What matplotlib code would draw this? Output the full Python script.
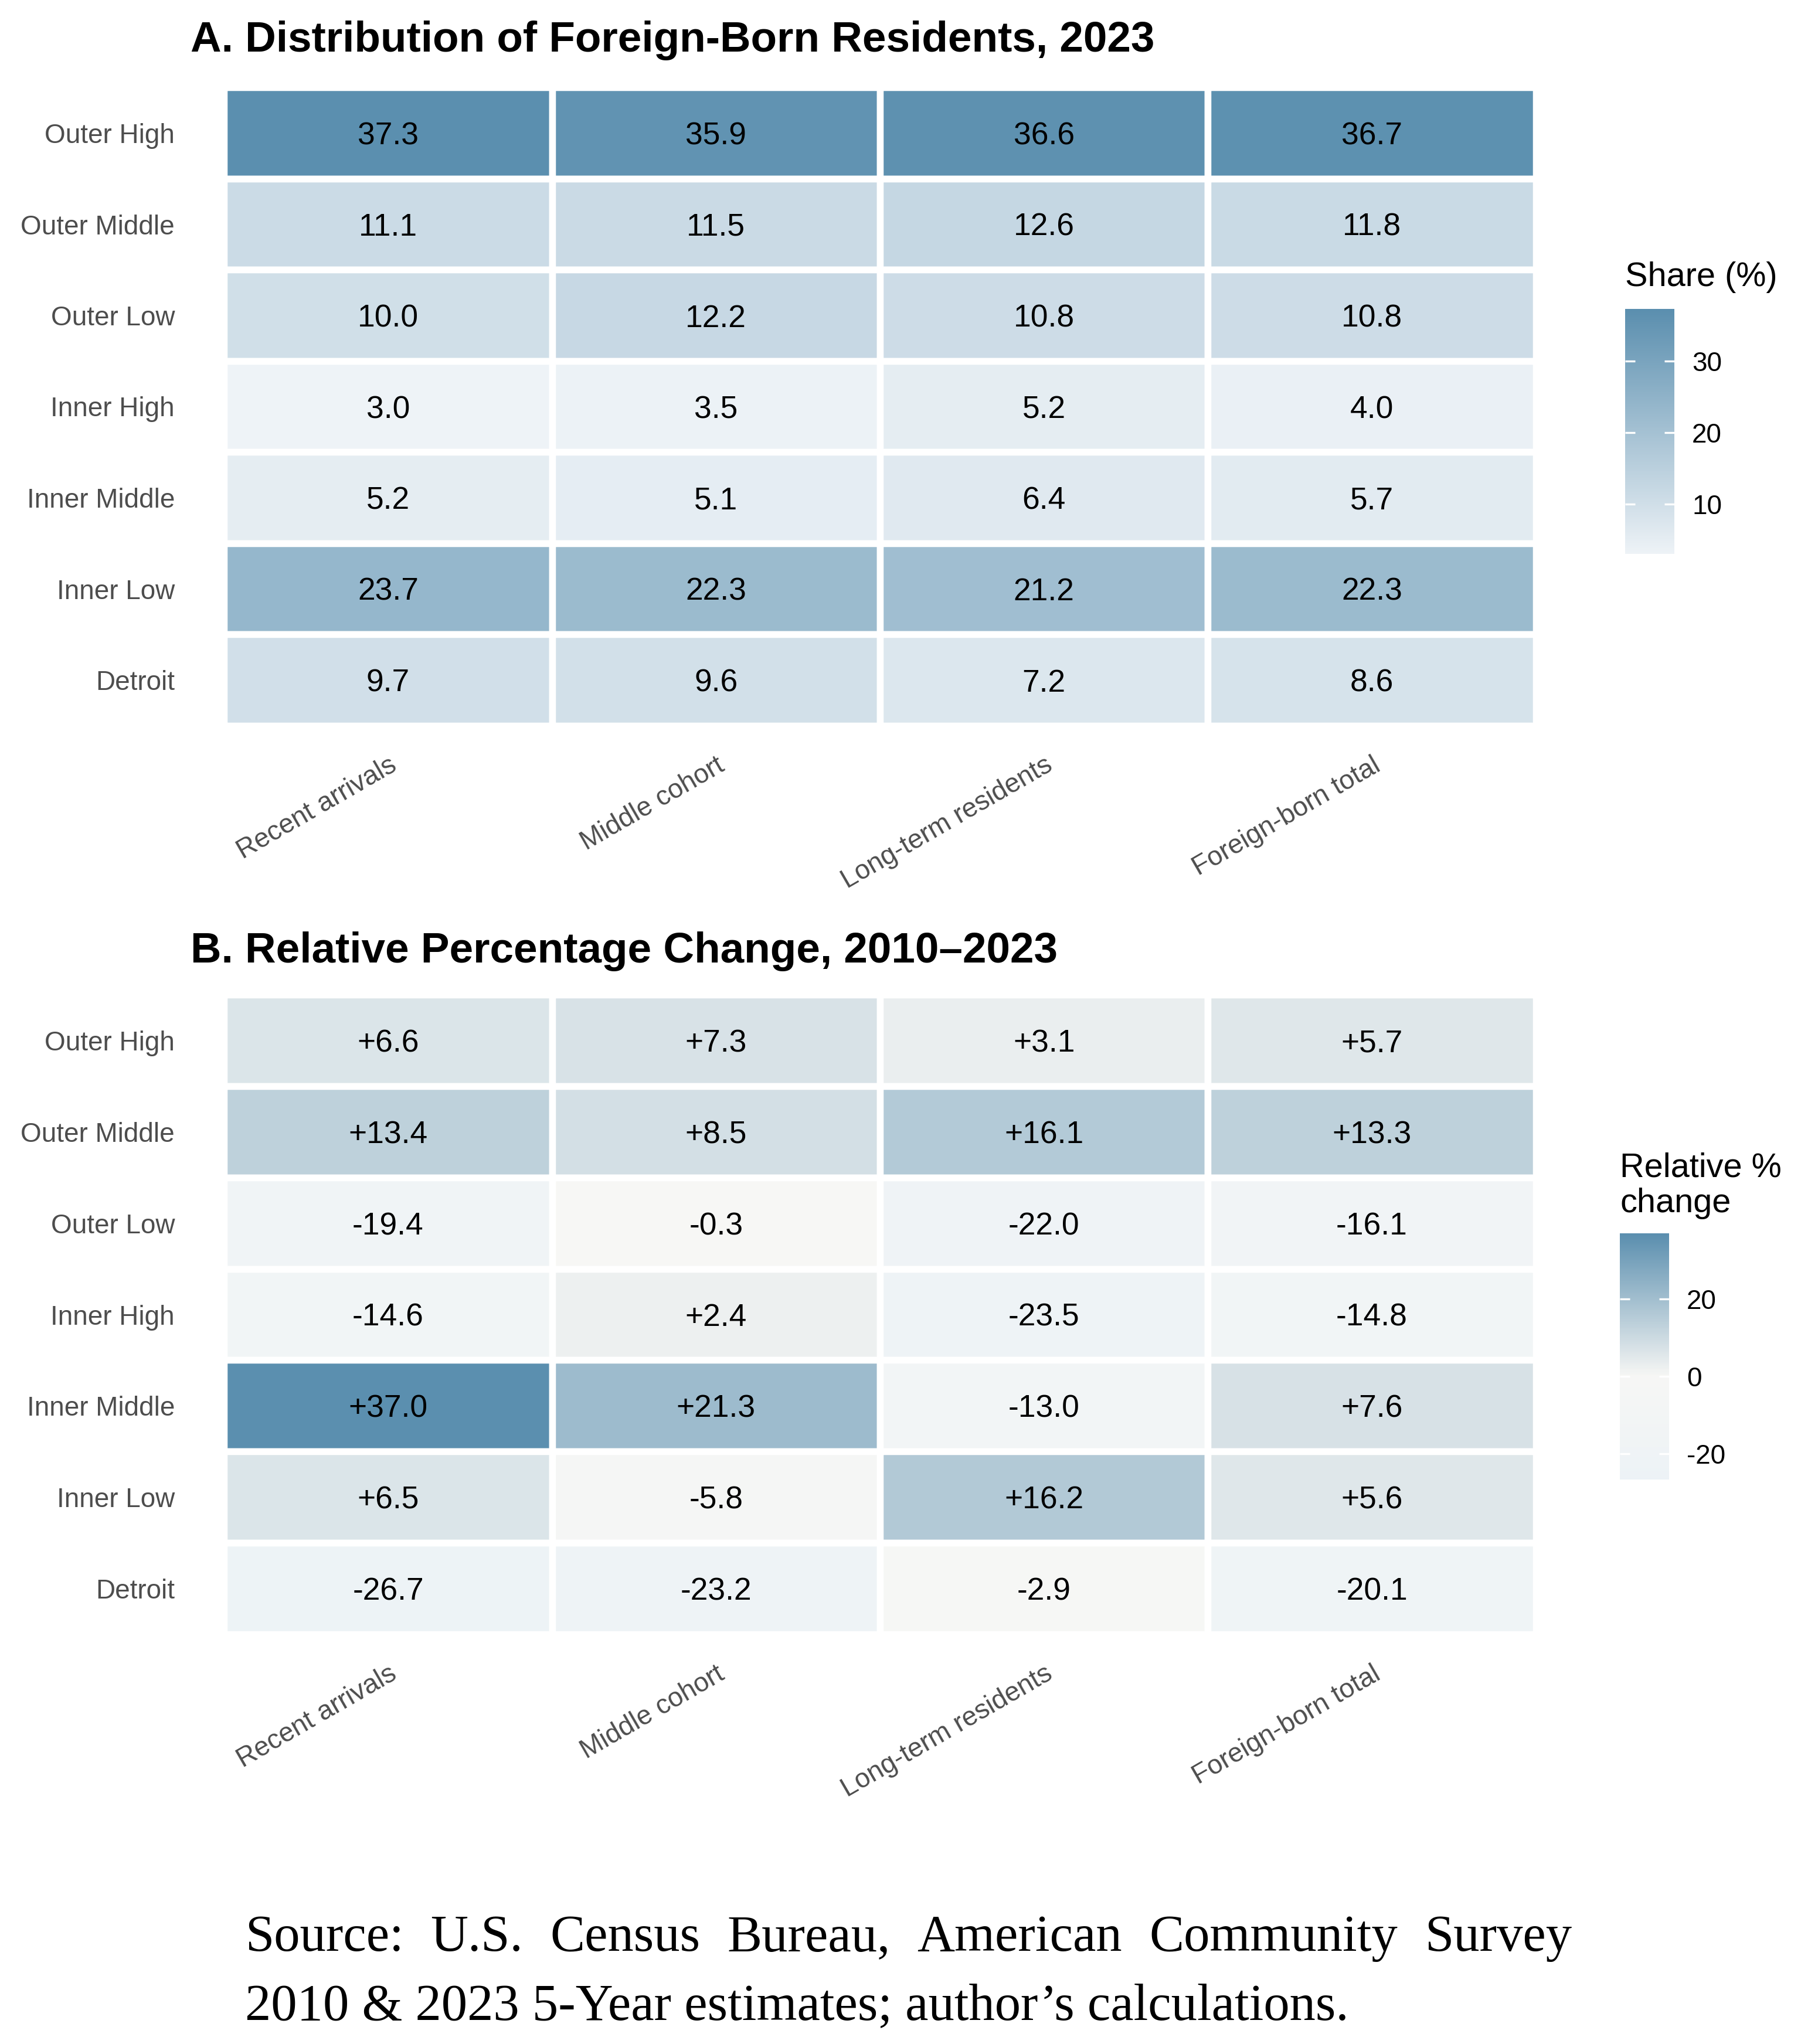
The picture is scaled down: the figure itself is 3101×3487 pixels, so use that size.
import numpy as np
import matplotlib
matplotlib.use("Agg")
import matplotlib.pyplot as plt
from matplotlib.colors import LinearSegmentedColormap, Normalize

# ---------------- data ----------------
rows = ["Outer High", "Outer Middle", "Outer Low", "Inner High",
        "Inner Middle", "Inner Low", "Detroit"]
cols = ["Recent arrivals", "Middle cohort", "Long-term residents", "Foreign-born total"]

share = np.array([
    [37.3, 35.9, 36.6, 36.7],
    [11.1, 11.5, 12.6, 11.8],
    [10.0, 12.2, 10.8, 10.8],
    [3.0, 3.5, 5.2, 4.0],
    [5.2, 5.1, 6.4, 5.7],
    [23.7, 22.3, 21.2, 22.3],
    [9.7, 9.6, 7.2, 8.6],
])

change = np.array([
    [6.6, 7.3, 3.1, 5.7],
    [13.4, 8.5, 16.1, 13.3],
    [-19.4, -0.3, -22.0, -16.1],
    [-14.6, 2.4, -23.5, -14.8],
    [37.0, 21.3, -13.0, 7.6],
    [6.5, -5.8, 16.2, 5.6],
    [-26.7, -23.2, -2.9, -20.1],
])

share_ticks = [10, 20, 30]
change_ticks = [-20, 0, 20]

title_a = "A. Distribution of Foreign-Born Residents, 2023"
title_b = "B. Relative Percentage Change, 2010\u20132023"
legend_a = "Share (%)"
legend_b = ["Relative %", "change"]
caption_line1 = "Source: U.S. Census Bureau, American Community Survey"
caption_line2 = "2010 & 2023 5-Year estimates; author\u2019s calculations."

# ---------------- style ----------------
W, H, DPI = 3101, 3487, 300
SANS = ["Liberation Sans", "DejaVu Sans"]
SERIF = ["Liberation Serif", "DejaVu Serif"]
HIGH = "#5B8FAF"
LOW_A = "#EEF3F7"
MID_B = "#F7F7F5"
LOW_B = "#E9F1F7"
AXIS_GREY = "#4D4D4D"

fig = plt.figure(figsize=(W / DPI, H / DPI), dpi=DPI)
fig.patch.set_facecolor("white")
renderer = fig.canvas.get_renderer()


def px_axes(x0, y0, x1, y1):
    return fig.add_axes([x0 / W, 1 - y1 / H, (x1 - x0) / W, (y1 - y0) / H])


def fig_text(x, y, s, **kw):
    return fig.text(x / W, 1 - y / H, s, **kw)


def width_px(t):
    return t.get_window_extent(renderer).width


def fit_width(t, target):
    t.set_fontsize(t.get_fontsize() * target / width_px(t))
    return t.get_fontsize()


lw_px = 11.5
lw_pt = lw_px * 72 / DPI

# colour maps
cmap_a = LinearSegmentedColormap.from_list("share", [LOW_A, HIGH])
norm_a = Normalize(vmin=share.min(), vmax=share.max())

# gradient2-like: symmetric about 0 using max abs
maxabs = np.abs(change).max()
cmap_b_full = LinearSegmentedColormap.from_list("chg", [LOW_B, MID_B, HIGH])
norm_b_full = Normalize(vmin=-maxabs, vmax=maxabs)


def heatmap(ax, data, cmap, norm, labels):
    nr, nc = data.shape
    ax.pcolormesh(np.arange(nc + 1), np.arange(nr + 1), data, cmap=cmap, norm=norm,
                  edgecolors="white", linewidth=lw_pt, antialiased=True)
    ax.set_xlim(0, nc)
    ax.set_ylim(nr, 0)
    for i in range(nr):
        for j in range(nc):
            ax.text(j + 0.5, i + 0.5, labels[i][j], ha="center", va="center_baseline",
                    fontsize=12.8, family=SANS, color="black")
    ax.set_xticks(np.arange(nc) + 0.5)
    ax.set_xticklabels(cols, rotation=30, ha="right", rotation_mode="anchor",
                       fontsize=11, color=AXIS_GREY, family=SANS)
    ax.set_yticks(np.arange(nr) + 0.5)
    ax.set_yticklabels(rows, fontsize=11, color=AXIS_GREY, family=SANS)
    ax.tick_params(axis="both", length=0)
    ax.tick_params(axis="y", pad=20.2)
    ax.tick_params(axis="x", pad=11)
    for s in ax.spines.values():
        s.set_visible(False)


def colorbar(cax, vmin, vmax, cmap, norm, ticks):
    vals = np.linspace(vmin, vmax, 400).reshape(-1, 1)
    cax.imshow(vals, cmap=cmap, norm=norm, aspect="auto", origin="lower",
               extent=[0, 1, vmin, vmax], interpolation="bilinear")
    cax.set_xlim(0, 1)
    cax.set_ylim(vmin, vmax)
    cax.set_xticks([])
    cax.set_yticks(ticks)
    cax.set_yticklabels([str(t) for t in ticks], family=SANS, fontsize=11, color="black")
    cax.yaxis.set_ticks_position("both")
    cax.tick_params(axis="y", direction="in", length=4, width=0.8, color="white",
                    left=True, right=True, labelleft=False, labelright=True, pad=7.2)
    for s in cax.spines.values():
        s.set_visible(False)


half = lw_px / 2
# Panel A
ax_a = px_axes(388 - half, 155 - half, 2614 + half, 1232 + half)
labels_a = [[f"{v:.1f}" for v in r] for r in share]
heatmap(ax_a, share, cmap_a, norm_a, labels_a)

# Panel B
ax_b = px_axes(388 - half, 1703 - half, 2614 + half, 2782 + half)
labels_b = [[f"{v:+.1f}" for v in r] for r in change]
heatmap(ax_b, change, cmap_b_full, norm_b_full, labels_b)

# Titles
ta = fig_text(325, 88, title_a, family=SANS, weight="bold", fontsize=17,
              ha="left", va="baseline", color="black")
tsize = fit_width(ta, 1645)
fig_text(325, 1642, title_b, family=SANS, weight="bold", fontsize=tsize,
         ha="left", va="baseline", color="black")

# Colourbars
cax_a = px_axes(2772, 527, 2856, 945)
colorbar(cax_a, share.min(), share.max(), cmap_a, norm_a, share_ticks)
cax_b = px_axes(2763, 2104, 2847, 2524)
colorbar(cax_b, change.min(), change.max(), cmap_b_full, norm_b_full, change_ticks)

la = fig_text(2772, 488, legend_a, family=SANS, fontsize=14, ha="left", va="baseline",
              color="black")
lsize = fit_width(la, 260)
fig_text(2763, 2007, legend_b[0], family=SANS, fontsize=lsize, ha="left", va="baseline",
         color="black")
fig_text(2763, 2068, legend_b[1], family=SANS, fontsize=lsize, ha="left", va="baseline",
         color="black")

# Caption (justified first line)
x_left, x_right = 418, 2681
c2 = fig_text(x_left, 3445, caption_line2, family=SERIF, fontsize=20, ha="left",
              va="baseline", color="black")
csize = fit_width(c2, 1884)
words = caption_line1.split(" ")
wts = [fig_text(0, 3328, w, family=SERIF, fontsize=csize, ha="left", va="baseline",
                color="black") for w in words]
widths = [width_px(t) for t in wts]
gap = (x_right - x_left - sum(widths)) / (len(words) - 1)
x = x_left
for t, w in zip(wts, widths):
    t.set_position((x / W, 1 - 3328 / H))
    x += w + gap

fig.savefig("out.png", dpi=DPI, facecolor="white")
